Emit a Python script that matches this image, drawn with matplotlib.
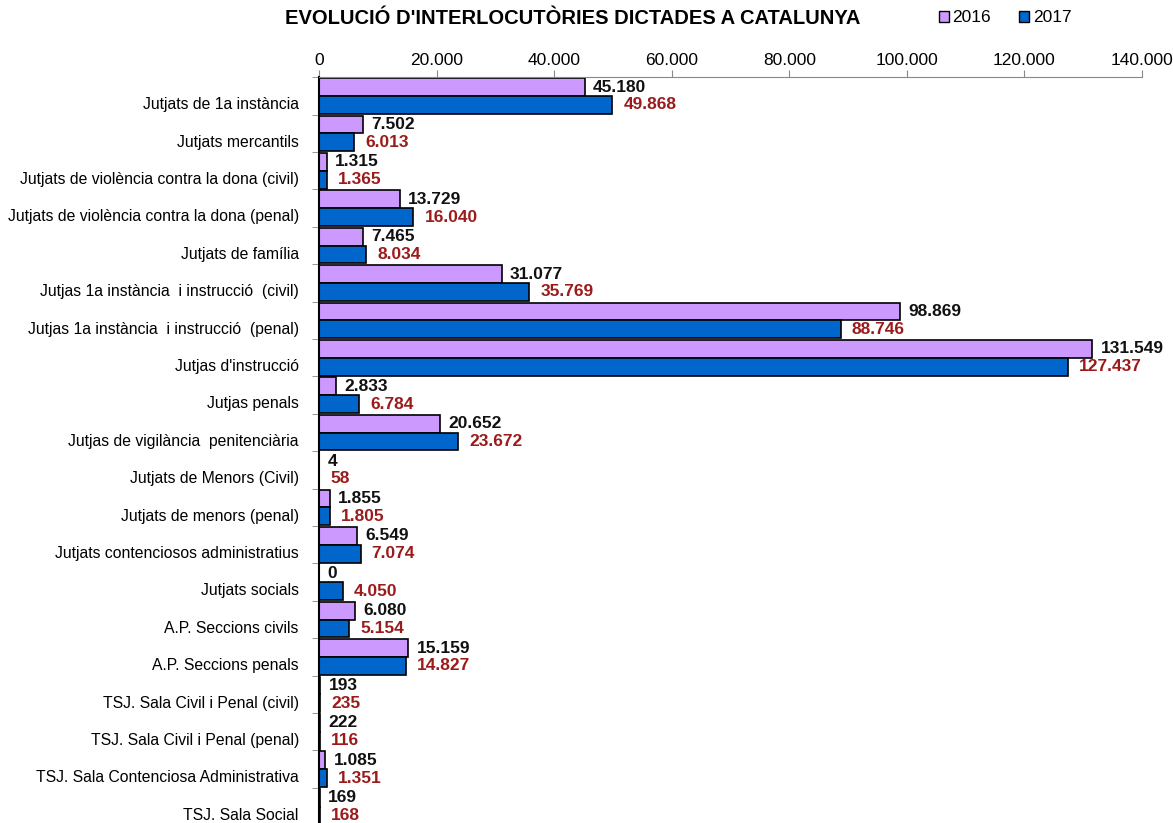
import numpy as np
import matplotlib
matplotlib.use("Agg")
import matplotlib.pyplot as plt
from matplotlib.patches import Patch
from matplotlib.ticker import FuncFormatter

plt.rcParams['font.family'] = ['Liberation Sans', 'DejaVu Sans']

categories = [
    "Jutjats de 1a instància",
    "Jutjats mercantils",
    "Jutjats de violència contra la dona (civil)",
    "Jutjats de violència contra la dona (penal)",
    "Jutjats de família",
    "Jutjas 1a instància  i instrucció  (civil)",
    "Jutjas 1a instància  i instrucció  (penal)",
    "Jutjas d'instrucció",
    "Jutjas penals",
    "Jutjas de vigilància  penitenciària",
    "Jutjats de Menors (Civil)",
    "Jutjats de menors (penal)",
    "Jutjats contenciosos administratius",
    "Jutjats socials",
    "A.P. Seccions civils",
    "A.P. Seccions penals",
    "TSJ. Sala Civil i Penal (civil)",
    "TSJ. Sala Civil i Penal (penal)",
    "TSJ. Sala Contenciosa Administrativa",
    "TSJ. Sala Social",
]
v2016 = [45180, 7502, 1315, 13729, 7465, 31077, 98869, 131549, 2833, 20652,
         4, 1855, 6549, 0, 6080, 15159, 193, 222, 1085, 169]
v2017 = [49868, 6013, 1365, 16040, 8034, 35769, 88746, 127437, 6784, 23672,
         58, 1805, 7074, 4050, 5154, 14827, 235, 116, 1351, 168]
xticks = [0, 20000, 40000, 60000, 80000, 100000, 120000, 140000]

c2016 = '#CC99FF'
c2017 = '#0066CC'
red = '#9B1B1B'

def fmt(v):
    return "{:,}".format(int(v)).replace(",", ".")

W, H = 1173, 823
fig = plt.figure(figsize=(W / 100, H / 100), dpi=100)
top_px, bot_px = 77.3, 825.3
ax = fig.add_axes([319 / W, 1 - bot_px / H, (1142 - 319) / W, (bot_px - top_px) / H])

n = len(categories)
y = np.arange(n)
bh = 0.475
ax.barh(y - bh / 2, v2016, height=bh, color=c2016, edgecolor='black', linewidth=1.2)
ax.barh(y + bh / 2, v2017, height=bh, color=c2017, edgecolor='black', linewidth=1.2)

for i in range(n):
    ax.annotate(fmt(v2016[i]), (v2016[i], y[i] - bh / 2), xytext=(6, 0),
                textcoords='offset points', va='center', ha='left',
                fontsize=12.5, fontweight='bold', color='#111111')
    ax.annotate(fmt(v2017[i]), (v2017[i], y[i] + bh / 2), xytext=(8, 0),
                textcoords='offset points', va='center', ha='left',
                fontsize=12.5, fontweight='bold', color=red)

ax.set_xlim(0, 140000)
ax.set_ylim(n - 0.5, -0.5)
ax.xaxis.tick_top()
ax.set_xticks(xticks)
ax.xaxis.set_major_formatter(FuncFormatter(lambda v, p: fmt(v)))
ax.tick_params(axis='x', length=5, color='#888888', labelsize=12.5, pad=2)

ax.set_yticks(y + 0.19)
ax.set_yticklabels(categories, fontsize=11.3)
ax.set_yticks(np.arange(n + 1) - 0.5, minor=True)
ax.tick_params(axis='y', which='major', length=0, pad=14.5)
ax.tick_params(axis='y', which='minor', length=5, color='#888888')

for s in ['right', 'bottom']:
    ax.spines[s].set_visible(False)
ax.spines['top'].set_color('#888888')
ax.spines['left'].set_color('black')
ax.spines['left'].set_linewidth(1.5)

fig.text(573 / W, 1 - 18 / H, "EVOLUCIÓ D'INTERLOCUTÒRIES DICTADES A CATALUNYA",
         ha='center', va='center', fontsize=14.5, fontweight='bold')

handles = [Patch(facecolor=c2016, edgecolor='black', label='2016'),
           Patch(facecolor=c2017, edgecolor='black', label='2017')]
fig.legend(handles=handles, loc='center', bbox_to_anchor=(1005 / W, 1 - 18 / H),
           ncol=2, frameon=False, fontsize=12.5, handlelength=0.6, handleheight=0.6,
           handletextpad=0.2, columnspacing=1.6)

fig.savefig("out.png", dpi=100)
